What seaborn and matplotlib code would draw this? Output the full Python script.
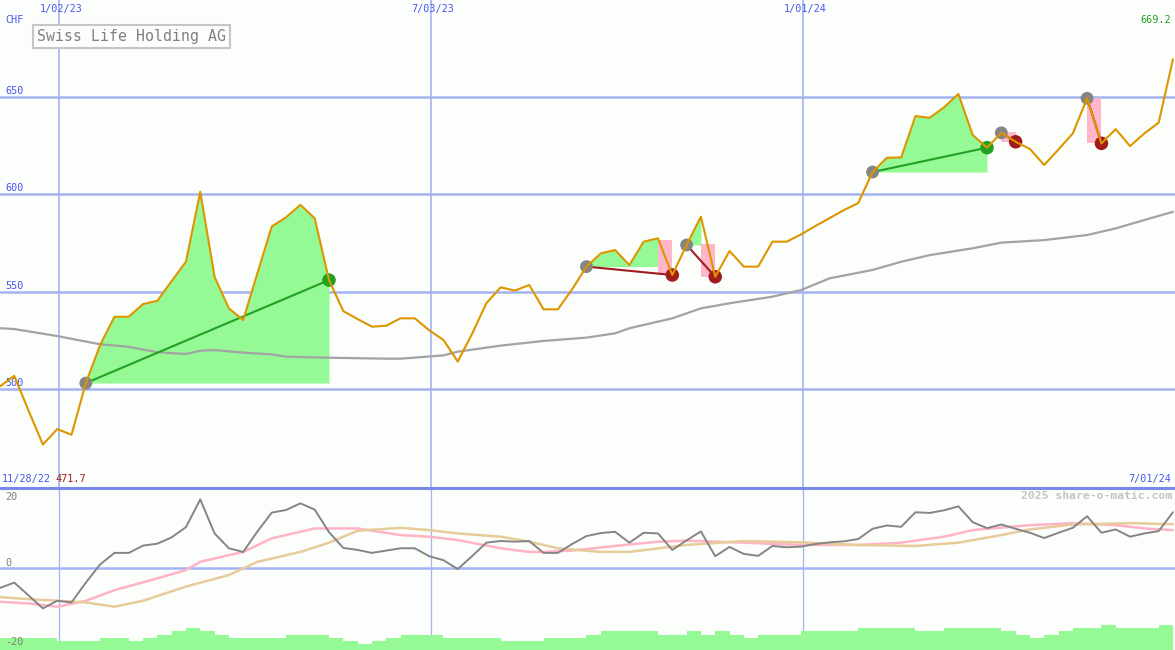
import numpy as np
import pandas as pd
import matplotlib.pyplot as plt
import matplotlib.dates as mdates
import seaborn as sns

# Weekly closing price, CHF
price = [501.5, 506.9, 489.0, 471.7, 479.6, 476.7, 503.2, 522.7, 537.2, 537.2,
         543.7, 545.4, 555.5, 565.4, 601.3, 557.7, 541.5, 535.5, 559.6, 583.5,
         588.2, 594.6, 587.7, 556.0, 540.1, 536.0, 532.1, 532.6, 536.4, 536.4,
         530.3, 525.3, 514.2, 528.4, 544.1, 552.3, 550.6, 553.5, 541.0, 541.0,
         551.3, 562.9, 569.7, 571.4, 563.7, 575.7, 577.4, 558.6, 574.0, 588.5,
         557.7, 570.9, 562.9, 562.9, 575.7, 575.7, 579.4, 583.7, 587.8, 591.9,
         595.5, 611.4, 618.7, 618.9, 640.1, 639.2, 644.6, 651.4, 630.4, 623.9,
         631.5, 626.9, 623.2, 615.0, 623.0, 631.2, 649.2, 626.1, 633.4, 624.7,
         631.2, 636.7, 669.2]

# Long moving average (grey line), read at selected weeks
ma_weeks = [0, 1, 4, 7, 9, 11, 13, 14, 15, 17, 19, 20, 23, 27, 28, 31, 32, 35, 38,
            41, 43, 44, 47, 49, 51, 54, 56, 58, 61, 63, 65, 68, 70, 73, 76, 78, 80, 82]
ma_vals = [531.3, 530.9, 527.3, 523.1, 521.8, 519.0, 518.1, 519.8, 520.1, 518.8,
           517.9, 516.7, 516.2, 515.7, 515.7, 517.4, 519.3, 522.4, 524.8, 526.5,
           528.7, 531.3, 536.4, 541.5, 544.1, 547.5, 550.9, 556.9, 561.2, 565.4,
           568.8, 572.3, 575.2, 576.5, 579.1, 582.5, 586.8, 591.0]

# Lower panel: momentum (grey) and its two averages (pink, tan)
momentum = [-6.1, -4.5, -8.4, -12.3, -10.0, -10.5, -4.5, 1.0, 4.5, 4.5,
            6.7, 7.3, 9.2, 12.3, 20.7, 10.4, 5.9, 4.8, 11.0, 16.7,
            17.5, 19.5, 17.6, 10.8, 6.0, 5.4, 4.5, 5.2, 5.9, 5.9,
            3.5, 2.3, -0.4, 3.5, 7.6, 8.1, 7.9, 8.1, 4.5, 4.5,
            7.2, 9.6, 10.5, 10.9, 7.6, 10.6, 10.4, 5.4, 8.3, 11.0,
            3.5, 6.3, 4.2, 3.6, 6.6, 6.2, 6.4, 7.2, 7.7, 8.0,
            8.7, 11.8, 12.8, 12.4, 16.8, 16.6, 17.4, 18.6, 13.8, 12.0,
            13.1, 11.8, 10.6, 9.0, 10.6, 12.1, 15.6, 10.6, 11.6, 9.4,
            10.4, 11.1, 16.8]
pink_weeks = [0, 2, 4, 6, 8, 11, 13, 14, 17, 19, 21, 22, 25, 28, 30, 32, 35, 37,
              38, 40, 43, 46, 48, 52, 56, 60, 63, 66, 68, 72, 75, 78, 80, 82]
pink_vals = [-10.3, -10.8, -11.8, -10.0, -6.8, -3.2, -0.7, 1.8, 4.8, 8.9, 10.9,
             11.9, 11.9, 9.9, 9.4, 8.4, 5.9, 4.8, 4.8, 5.2, 6.6, 7.9, 8.2, 7.6,
             6.9, 6.9, 7.6, 9.4, 11.4, 12.9, 13.5, 12.9, 11.9, 11.4]
tan_weeks = [0, 2, 5, 6, 8, 10, 13, 16, 18, 21, 23, 24, 25, 28, 30, 32, 35, 37,
             39, 42, 44, 48, 52, 56, 60, 64, 67, 70, 72, 75, 79, 82]
tan_vals = [-8.9, -9.5, -10.2, -10.5, -11.8, -10.0, -5.7, -2.2, 1.8, 4.8, 7.6,
            9.4, 11.2, 12.1, 11.4, 10.4, 9.4, 7.9, 5.9, 4.8, 4.8, 6.9, 8.1, 7.7,
            6.9, 6.6, 7.6, 9.9, 11.6, 13.1, 13.5, 13.2]

# Weekly volume (relative units)
volume = [12, 12, 12, 12, 9, 9, 9, 12, 12, 9,
          12, 15, 19, 22, 19, 15, 12, 12, 12, 12,
          15, 15, 15, 12, 9, 6, 9, 12, 15, 15,
          15, 12, 12, 12, 12, 9, 9, 9, 12, 12,
          12, 15, 19, 19, 19, 19, 15, 15, 19, 15,
          19, 15, 12, 15, 15, 15, 19, 19, 19, 19,
          22, 22, 22, 22, 19, 19, 22, 22, 22, 22,
          19, 15, 12, 15, 19, 22, 22, 25, 22, 22,
          22, 25]

# Trading signals (week numbers); losing trades give back from a stop level
buy_weeks = [6, 41, 48, 61, 70, 76]
sell_weeks = [23, 47, 50, 69, 71, 77]
stop_weeks = [None, 46, 49, None, 70, 76]
stop_levels = [None, 576.4, 574.5, None, 631.8, 649.2]

grid_dates = ["2023-01-02", "2023-07-03", "2024-01-01"]
grid_labels = ["1/02/23", "7/03/23", "1/01/24"]
price_levels = [500, 550, 600, 650]
mom_levels = [20, 0, -20]

BG = "#fbfefb"
GRID = "#a4b3f2"
BLUE = "#4a55ee"
ORANGE = "#dd9500"
FILL_GREEN = "#95f995"
FILL_PINK = "#ffb6c8"
WIN = "#22a022"
LOSS = "#a31c1c"

sns.set_style("white")
plt.rcParams["font.family"] = ["DejaVu Sans Mono"]

start = pd.Timestamp("2022-12-04")
end = pd.Timestamp("2024-07-01")
dates = pd.date_range(start, periods=len(price), freq="7D")
ma_dates = start + pd.to_timedelta(np.array(ma_weeks) * 7, unit="D")
pink_dates = start + pd.to_timedelta(np.array(pink_weeks) * 7, unit="D")
tan_dates = start + pd.to_timedelta(np.array(tan_weeks) * 7, unit="D")
price_arr = np.array(price)
xnum = mdates.date2num(dates)

fig = plt.figure(figsize=(11.75, 6.5), dpi=100, facecolor=BG)
ax1 = fig.add_axes([0, 162 / 650, 1, 488 / 650], facecolor=BG)
ax2 = fig.add_axes([0, 0, 1, 162 / 650], facecolor=BG)

# ---- upper panel: price ----
for lv in price_levels:
    ax1.axhline(lv, color=GRID, lw=1.8, zorder=0)
    ax1.annotate(str(lv), xy=(0, lv), xycoords=ax1.get_yaxis_transform(),
                 xytext=(5, 6), textcoords="offset pixels", ha="left",
                 va="center", color=BLUE, fontsize=7.3)
for d, lbl in zip(grid_dates, grid_labels):
    dn = mdates.date2num(pd.Timestamp(d))
    ax1.axvline(dn, color=GRID, lw=1.2, zorder=0)
    ax2.axvline(dn, color=GRID, lw=0.9, zorder=0)
    ax1.annotate(lbl, xy=(dn, 1), xycoords=ax1.get_xaxis_transform(),
                 xytext=(2, -9), textcoords="offset pixels", ha="center",
                 va="center", color=BLUE, fontsize=7.3)

for b, s, ws, top in zip(buy_weeks, sell_weeks, stop_weeks, stop_levels):
    end_green = s if ws is None else ws
    xs = xnum[b:end_green + 1]
    ps = price_arr[b:end_green + 1]
    level = price[b]
    ax1.fill_between(xs, ps, level, where=ps >= level, interpolate=True,
                     color=FILL_GREEN, lw=0, zorder=1)
    if ws is not None:
        ax1.fill_between([xnum[ws], xnum[s]], price[s], top,
                         color=FILL_PINK, lw=0, zorder=1)

sns.lineplot(x=mdates.date2num(ma_dates), y=ma_vals, ax=ax1, color="#a3a3a3",
             linewidth=1.6, zorder=2)

for b, s in zip(buy_weeks, sell_weeks):
    col = WIN if price[s] > price[b] else LOSS
    ax1.plot([xnum[b], xnum[s]], [price[b], price[s]], color=col, lw=1.5, zorder=3)
    sns.scatterplot(x=[xnum[s]], y=[price[s]], ax=ax1, color=col, s=95,
                    edgecolor="none", zorder=4, legend=False)
sns.scatterplot(x=xnum[buy_weeks], y=price_arr[buy_weeks], ax=ax1, color="#858585",
                s=85, edgecolor="none", zorder=4, legend=False)

sns.lineplot(x=xnum, y=price, ax=ax1, color=ORANGE, linewidth=1.5, zorder=5)

ax1.set_ylim(449.4, 699.6)

# ---- lower panel: momentum ----
ax2.axhline(0, color=GRID, lw=1.8, zorder=0)
sns.lineplot(x=mdates.date2num(pink_dates), y=pink_vals, ax=ax2, color="#ffb3c6",
             linewidth=1.8, zorder=2)
sns.lineplot(x=mdates.date2num(tan_dates), y=tan_vals, ax=ax2, color="#e8cb9a",
             linewidth=1.8, zorder=2)
sns.lineplot(x=xnum, y=momentum, ax=ax2, color="#858585", linewidth=1.4, zorder=3)
ax2.set_ylim(-24.9, 24.15)

axv = ax2.twinx()
axv.bar(xnum[:len(volume)], volume, width=7, align="edge", color=FILL_GREEN, lw=0)
axv.set_ylim(0, 162)

for lv in mom_levels:
    off = -8 if lv < 0 else 5
    axv.annotate(str(lv), xy=(0, lv), xycoords=ax2.get_yaxis_transform(),
                 xytext=(5, off), textcoords="offset pixels", ha="left",
                 va="center", color="#808080", fontsize=7.3, zorder=5)

xlo, xhi = mdates.date2num(start), mdates.date2num(end)
for ax in (ax1, ax2, axv):
    ax.set_xlim(xlo, xhi)
    ax.set_xticks([])
    ax.set_yticks([])
    ax.set_xlabel("")
    ax.set_ylabel("")
    for sp in ax.spines.values():
        sp.set_visible(False)
# separator between the two panels
axv.spines["top"].set_visible(True)
axv.spines["top"].set_color("#7a88ea")
axv.spines["top"].set_linewidth(2.2)

# ---- texts ----
def px(x, y):
    return x / 1175, 1 - y / 650

fig.text(*px(5, 20), "CHF", color=BLUE, fontsize=7.3, va="center", ha="left")
fig.text(*px(1171, 20), f"{max(price):.1f}", color=WIN, fontsize=7.3, va="center", ha="right")
fig.text(*px(2, 479), "11/28/22", color=BLUE, fontsize=7.3, va="center", ha="left")
fig.text(*px(56, 479), f"{min(price):.1f}", color=LOSS, fontsize=7.3, va="center", ha="left")
fig.text(*px(1171, 479), "7/01/24", color=BLUE, fontsize=7.3, va="center", ha="right")
fig.text(*px(1172, 496), "2025 share-o-matic.com", color="#c4c4c4", fontsize=8.2,
         va="center", ha="right", fontweight="bold")
fig.text(*px(37, 36.5), "Swiss Life Holding AG", color="#808080", fontsize=10.7,
         va="center", ha="left",
         bbox=dict(boxstyle="square,pad=0.25", fc=BG, ec="#c6c6c6", lw=1.5))

plt.savefig("out.png", dpi=100, facecolor=BG)
